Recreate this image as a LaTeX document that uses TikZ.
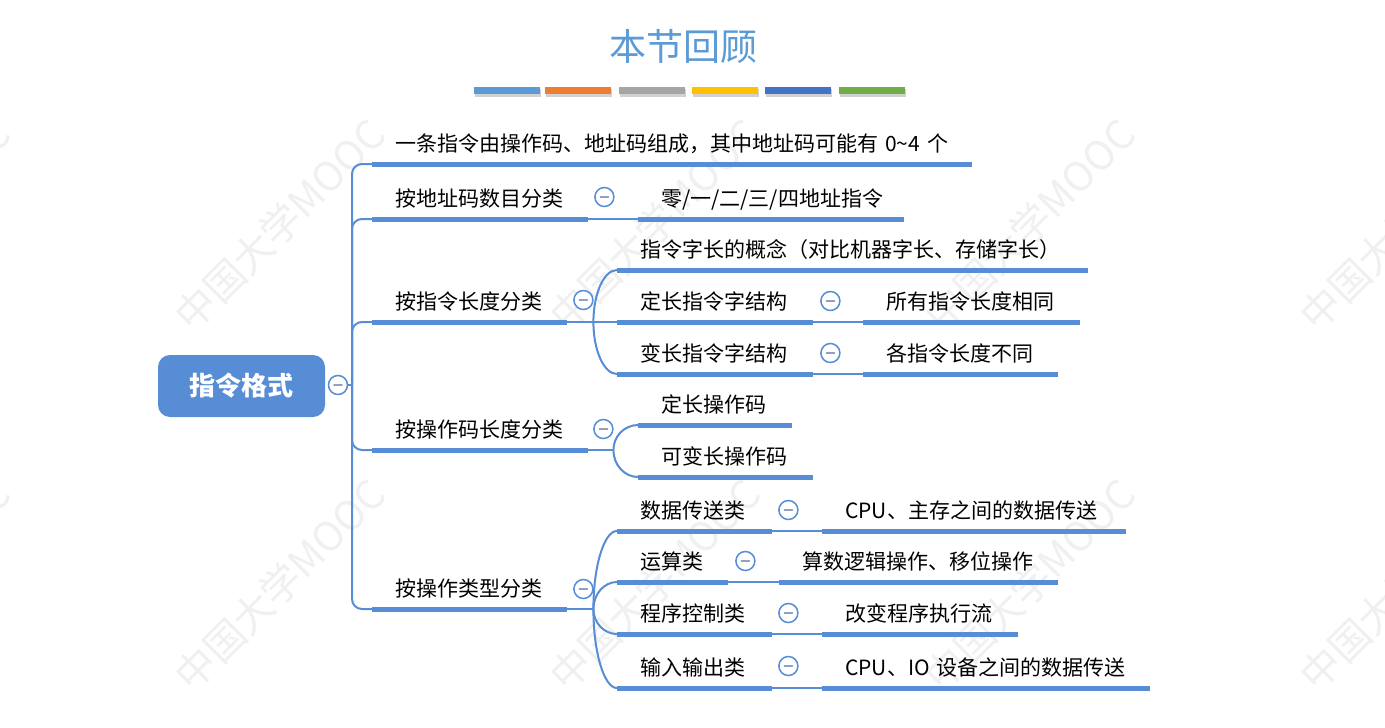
\documentclass[tikz,border=0pt]{standalone}
\usepackage{fontspec}
\setmainfont{Noto Sans CJK SC}
\usetikzlibrary{calc}
\definecolor{lineblue}{RGB}{86,141,212}
\definecolor{titleblue}{RGB}{91,155,213}
\definecolor{minusgray}{RGB}{150,158,196}
\definecolor{barA}{RGB}{91,155,213}
\definecolor{barB}{RGB}{237,125,49}
\definecolor{barC}{RGB}{165,165,165}
\definecolor{barD}{RGB}{255,192,0}
\definecolor{barE}{RGB}{68,114,196}
\definecolor{barF}{RGB}{112,173,71}
\definecolor{wm}{RGB}{240,240,240}
\tikzset{
  topic/.style={anchor=south west, inner xsep=23pt, inner ysep=0pt, text height=18pt, text depth=12pt,
    align=left, text width=#1pt, font=\fontsize{21}{24}\selectfont},
  uline/.style={draw=lineblue, line width=5pt},
  conn/.style={draw=lineblue, line width=2pt},
  fold/.style={circle, draw=lineblue, line width=1.5pt, fill=white, minimum size=19pt, inner sep=0pt,
    path picture={\draw[minusgray, line width=1.6pt, line cap=round]
      ([xshift=-4pt]path picture bounding box.center) -- ([xshift=4pt]path picture bounding box.center);}},
  colorbar/.style={fill=#1, draw=none, anchor=north west, minimum width=66pt, minimum height=7pt, inner sep=0pt},
  wmark/.style={text=wm, rotate=45, font=\fontsize{40}{44}\selectfont},
  rootbox/.style={fill=lineblue, rounded corners=12pt, minimum width=167pt, minimum height=62pt,
    text=white, font=\fontsize{26}{30}\selectfont\bfseries},
}
\begin{document}
\begin{tikzpicture}[x=1pt,y=-1pt]
\useasboundingbox (0,0) rectangle (1385,728);
\fill[white] (0,0) rectangle (1385,728);
% watermarks
\foreach \cx [count=\i] in {-95,280,655,1030,1405}{
  \foreach \cy [count=\j] in {225,585}{
    \node[wmark] (wm\i\j) at (\cx,\cy) {中国大学MOOC};
  }
}
% title and colour bars
\node[text=titleblue, font=\fontsize{37}{40}\selectfont] (title) at (683,46) {本节回顾};
\foreach \x/\c [count=\i] in {474/barA,545/barB,619/barC,692/barD,765/barE,839/barF}{
  \fill[black!18] (\x+1,89) rectangle (\x+67,97);
  \node[colorbar=\c] (bar\i) at (\x,87) {};
}
% root
\node[rootbox] (root) at (241.5,386) {指令格式};
\node[fold] (f0) at (338,385) {};
\coordinate (trunk) at (352,385);
% level 1
\node[topic=554] (a1) at (372,164) {\mbox{一条指令由操作码、地址码组成，其中地址码可能有 0\textasciitilde 4 个}};
\node[topic=170] (a2) at (372,219) {按地址码数目分类};
\node[topic=149] (a3) at (372,322) {按指令长度分类};
\node[topic=170] (a4) at (372,450) {按操作码长度分类};
\node[topic=149] (a5) at (372,609) {按操作类型分类};
% level 2
\node[topic=220] (b1) at (638,219) {零/一/二/三/四地址指令};
\node[topic=425] (b2) at (617,270) {指令字长的概念（对比机器字长、存储字长）};
\node[topic=150] (b3) at (617,322) {定长指令字结构};
\node[topic=150] (b4) at (617,374) {变长指令字结构};
\node[topic=108] (b5) at (638,425) {定长操作码};
\node[topic=129] (b6) at (638,477) {可变长操作码};
\node[topic=109] (b7) at (617,531) {数据传送类};
\node[topic=65]  (b8) at (617,582) {运算类};
\node[topic=109] (b9) at (617,634) {程序控制类};
\node[topic=109] (b10) at (617,688) {输入输出类};
% level 3
\node[topic=171] (c1) at (863,322) {所有指令长度相同};
\node[topic=149] (c2) at (863,374) {各指令长度不同};
\node[topic=258] (c3) at (822,531) {\mbox{CPU、主存之间的数据传送}};
\node[topic=233] (c4) at (779,582) {算数逻辑操作、移位操作};
\node[topic=150] (c5) at (822,634) {改变程序执行流};
\node[topic=282] (c6) at (822,688) {\mbox{CPU、IO 设备之间的数据传送}};
% forks
\coordinate (k3) at ($(a3.south east)+(26,0)$);
\coordinate (k4) at ($(a4.south east)+(25,0)$);
\coordinate (k5) at ($(a5.south east)+(26,0)$);
% connectors
\draw[conn] (f0.east) -- (trunk);
\foreach \n in {a1,a2,a3,a4,a5}
  \draw[conn, rounded corners=10pt] (trunk) |- (\n.south west);
\draw[conn] (a2.south east) -- (b1.south west);
\draw[conn] (a3.south east) -- (k3);
\draw[conn] (a4.south east) -- (k4);
\draw[conn] (a5.south east) -- (k5);
\foreach \k/\c in {k3/b2,k3/b3,k3/b4,k4/b5,k4/b6,k5/b7,k5/b8,k5/b9,k5/b10}
  \draw[conn] (\k) .. controls ($(\k)!0.55!(\k |- \c.south west)$) and ($(\c.south west)!0.55!(\k |- \c.south west)$) .. (\c.south west);
\draw[conn] (b3.south east) -- (c1.south west);
\draw[conn] (b4.south east) -- (c2.south west);
\draw[conn] (b7.south east) -- (c3.south west);
\draw[conn] (b8.south east) -- (c4.south west);
\draw[conn] (b9.south east) -- (c5.south west);
\draw[conn] (b10.south east) -- (c6.south west);
% underlines
\foreach \n in {a1,a2,a3,a4,a5,b1,b2,b3,b4,b5,b6,b7,b8,b9,b10,c1,c2,c3,c4,c5,c6}
  \draw[uline] (\n.south west) -- (\n.south east);
% fold markers
\node[fold] (f2) at ($(a2.south east)+(16,-22)$) {};
\node[fold] (f3) at ($(a3.south east)+(16,-22)$) {};
\node[fold] (f4) at ($(a4.south east)+(15,-21)$) {};
\node[fold] (f5) at ($(a5.south east)+(16,-20)$) {};
\node[fold] (g3) at ($(b3.south east)+(17,-21)$) {};
\node[fold] (g4) at ($(b4.south east)+(17,-21)$) {};
\node[fold] (g7) at ($(b7.south east)+(16,-21)$) {};
\node[fold] (g8) at ($(b8.south east)+(17,-21)$) {};
\node[fold] (g9) at ($(b9.south east)+(16,-21)$) {};
\node[fold] (g10) at ($(b10.south east)+(16,-22)$) {};
\end{tikzpicture}
\end{document}
